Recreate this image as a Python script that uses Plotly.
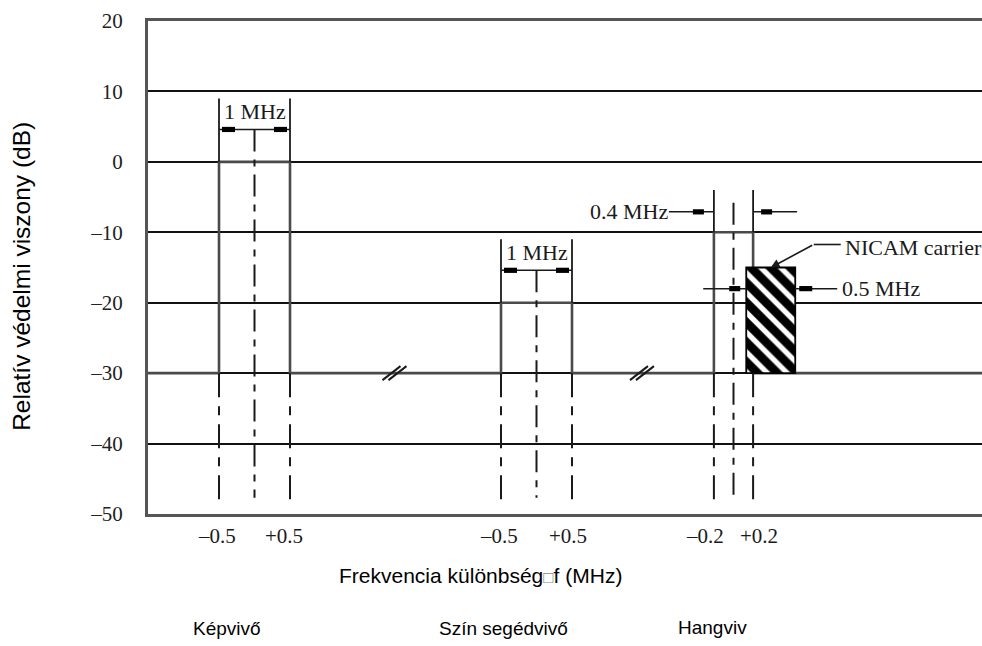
import plotly.graph_objects as go

# ---- data -------------------------------------------------------------
carriers = ["Képvivő", "Szín segédvivő", "Hangviv"]
band_low = [-0.5, -0.5, -0.2]      # MHz, lower band edge relative to the carrier
band_high = [0.5, 0.5, 0.2]        # MHz, upper band edge relative to the carrier
band_level = [0, -20, -10]         # dB, protection ratio inside the band
floor_level = -30                  # dB, protection ratio outside the bands

nicam_offset = 0.38                # MHz, NICAM centre above the sound carrier
nicam_bw = 0.5                     # MHz
nicam_level = -15                  # dB

y_ticks = [20, 10, 0, -10, -20, -30, -40, -50]

# ---- schematic layout (broken frequency axis) -------------------------
X_SPAN = 834.0
group_center = [106.5, 388.5, 585.5]
group_scale = [71.0, 71.0, 98.0]          # axis units per MHz in each segment
tick_shift_low = [-2, -2, -9]
tick_shift_high = [-6, -4, 6]
name_shift = [-28, -33, -21]
name_yshift = [-114, -114, -113]

SERIF = "Liberation Serif, Times New Roman, serif"
SANS = "Liberation Sans, Arial, sans-serif"
INK = "#1a1a1a"
TRACE = "#4a4a4a"
NOTE_SIZE = 22
SANS_SIZE = 19


def gx(g, f):
    return group_center[g] + f * group_scale[g]


def fmt(v):
    return f"{v:+.1f}".replace("-", "–")


fig = go.Figure()

# stepped protection-ratio curve
xs, ys = [0.0], [floor_level]
for g in range(len(carriers)):
    L, R = gx(g, band_low[g]), gx(g, band_high[g])
    xs += [L, L, R, R]
    ys += [floor_level, band_level[g], band_level[g], floor_level]
xs.append(X_SPAN)
ys.append(floor_level)
fig.add_trace(go.Scatter(x=xs, y=ys, mode="lines",
                         line=dict(color=TRACE, width=2.6),
                         hoverinfo="skip", showlegend=False))

# NICAM carrier, hatched
NL = gx(2, nicam_offset - nicam_bw / 2)
NR = gx(2, nicam_offset + nicam_bw / 2)
NC = gx(2, nicam_offset)
fig.add_trace(go.Scatter(
    x=[NL, NR, NR, NL, NL],
    y=[floor_level, floor_level, nicam_level, nicam_level, floor_level],
    mode="lines", fill="toself", fillcolor="white",
    fillpattern=dict(shape="\\", fgcolor="black", bgcolor="white",
                     fgopacity=1, size=14, solidity=0.62),
    line=dict(color="black", width=1.8),
    hoverinfo="skip", showlegend=False))

shapes = []
annotations = []
EDGE_DASH = "24px,9px,9px,9px"
CENTER_DASH = "22px,8px,7px,8px"
y_bottom_edge = -48.3
y_bottom_center = -47.7


def vline(x, y0, y1, dash="solid", width=1.8, color=INK):
    shapes.append(dict(type="line", xref="x", yref="y", x0=x, x1=x, y0=y0, y1=y1,
                       line=dict(color=color, width=width, dash=dash)))


def hline_px(xa, px0, px1, y, width=1.5):
    shapes.append(dict(type="line", xref="x", yref="y", xsizemode="pixel",
                       xanchor=xa, x0=px0, x1=px1, y0=y, y1=y,
                       line=dict(color=INK, width=width)))


def blob(xa, px0, px1, y):
    shapes.append(dict(type="rect", xref="x", yref="y", xsizemode="pixel",
                       ysizemode="pixel", xanchor=xa, yanchor=y,
                       x0=px0, x1=px1, y0=-2.6, y1=2.6,
                       fillcolor="black", line=dict(width=0)))


def serif_note(text, x, y, xanchor="center", xshift=0):
    annotations.append(dict(text=text, x=x, y=y, xref="x", yref="y",
                            xanchor=xanchor, yanchor="middle", xshift=xshift,
                            showarrow=False,
                            font=dict(family=SERIF, size=NOTE_SIZE, color=INK)))


for g in range(len(carriers)):
    L, R = gx(g, band_low[g]), gx(g, band_high[g])
    C = gx(g, 0)
    top = band_level[g]
    bw = band_high[g] - band_low[g]
    # band edges continued below the floor
    vline(L, floor_level, y_bottom_edge, EDGE_DASH, 2)
    vline(R, floor_level, y_bottom_edge, EDGE_DASH, 2)
    if g < 2:
        # inside dimension: |<-- bw -->|
        dim_y = top + 4.6
        vline(L, top, top + 9)
        vline(R, top, top + 9)
        shapes.append(dict(type="line", xref="x", yref="y", x0=L, x1=R,
                           y0=dim_y, y1=dim_y, line=dict(color=INK, width=1.5)))
        blob(L, 3, 16, dim_y)
        blob(R, -16, -3, dim_y)
        serif_note(f"{bw:g} MHz", C, top + 7.2)
        vline(C, dim_y, y_bottom_center, CENTER_DASH, 2)
    else:
        # outside dimension: -->| bw |<--
        dim_y = top + 2.9
        vline(L, top, top + 6)
        vline(R, top, top + 6)
        hline_px(L, -45, 0, dim_y)
        blob(L, -21, -10, dim_y)
        hline_px(R, 0, 44, dim_y)
        blob(R, 8, 19, dim_y)
        serif_note(f"{bw:g} MHz", L, dim_y, xanchor="right", xshift=-44)
        vline(C, top + 4.2, y_bottom_center, CENTER_DASH, 2)

    # frequency tick labels under the axis
    for val, x, sh in ((band_low[g], L, tick_shift_low[g]),
                       (band_high[g], R, tick_shift_high[g])):
        annotations.append(dict(text=fmt(val), x=x, y=0, xref="x", yref="paper",
                                xanchor="center", yanchor="middle", xshift=sh, yshift=-22,
                                showarrow=False,
                                font=dict(family=SERIF, size=21, color=INK)))
    # carrier names
    annotations.append(dict(text=carriers[g], x=C, y=0, xref="x", yref="paper",
                            xanchor="center", yanchor="middle", xshift=name_shift[g],
                            yshift=name_yshift[g], showarrow=False,
                            font=dict(family=SANS, size=SANS_SIZE, color="black")))

# NICAM bandwidth dimension
nic_dim = nicam_level - 3
hline_px(NL, -43, 0, nic_dim)
blob(NL, -17, -6, nic_dim)
hline_px(NR, 0, 42, nic_dim)
blob(NR, 4, 17, nic_dim)
serif_note(f"{nicam_bw:g} MHz", NR, nic_dim, xanchor="left", xshift=45)

# NICAM carrier leader
annotations.append(dict(text="", x=NC, y=nicam_level, xref="x", yref="y",
                        ax=43, ay=-23, axref="pixel", ayref="pixel",
                        showarrow=True, arrowhead=2, arrowsize=1.1, arrowwidth=1.6,
                        arrowcolor=INK))
shapes.append(dict(type="line", xref="x", yref="y", xsizemode="pixel", ysizemode="pixel",
                   xanchor=NC, yanchor=nicam_level, x0=43, x1=70, y0=23, y1=23,
                   line=dict(color=INK, width=1.6)))
serif_note("NICAM carrier", NC, nicam_level + 2.8, xanchor="left", xshift=72)

# axis break marks between the segments
for g in range(len(carriers) - 1):
    mid = (gx(g, band_high[g]) + gx(g + 1, band_low[g + 1])) / 2
    for off in (-3, 3):
        shapes.append(dict(type="line", xref="x", yref="y", xsizemode="pixel",
                           ysizemode="pixel", xanchor=mid, yanchor=floor_level,
                           x0=-10 + off, x1=8 + off, y0=-7, y1=7,
                           line=dict(color=INK, width=2)))

# axis titles
annotations.append(dict(text="Relatív védelmi viszony (dB)", x=0, y=0.481,
                        xref="paper", yref="paper", xshift=-126, textangle=-90,
                        xanchor="center", yanchor="middle", showarrow=False,
                        font=dict(family=SANS, size=24.5, color="black")))
annotations.append(dict(text="Frekvencia különbség<span style='font-size:17px;color:#888'>□</span>f (MHz)",
                        x=0.399, y=0, xref="paper", yref="paper", yshift=-61,
                        xanchor="center", yanchor="middle", showarrow=False,
                        font=dict(family=SANS, size=21, color="black")))

fig.update_layout(
    width=982, height=646,
    margin=dict(l=148, r=0, t=21, b=132),
    paper_bgcolor="white", plot_bgcolor="white",
    shapes=shapes, annotations=annotations,
    showlegend=False,
    xaxis=dict(range=[0, X_SPAN], showgrid=False, zeroline=False,
               showticklabels=False, ticks="", showline=True, mirror=True,
               linecolor="#555", linewidth=3, fixedrange=True),
    yaxis=dict(range=[-50, 20], tickvals=y_ticks,
               ticktext=[str(v).replace("-", "–") for v in y_ticks],
               showgrid=True, gridcolor="#111", gridwidth=1.8, zeroline=False,
               showline=True, mirror=False, linecolor="#555", linewidth=3,
               ticks="", ticklabelstandoff=18,
               tickfont=dict(family=SERIF, size=21, color="#222"), fixedrange=True),
)

fig.write_html("out.html")
